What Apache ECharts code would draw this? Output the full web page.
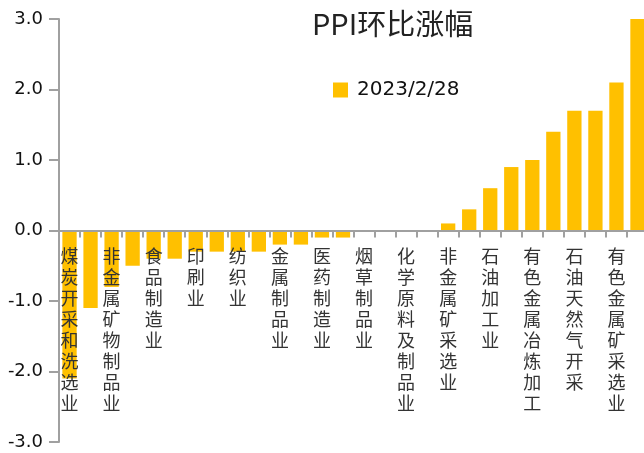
<!DOCTYPE html>
<html>
<head>
<meta charset="utf-8">
<script src="https://cdn.jsdelivr.net/npm/echarts@6/dist/echarts.min.js"></script>
<style>
    html, body { margin: 0; padding: 0; background: #fff; }
    #chart { width: 644px; height: 453px; }
</style>
</head>
<body>
<div id="chart"></div>
<script>
// 数据: 只显示奇数位置的行业名称
var categories = [
    "煤炭开采和洗选业", "", "非金属矿物制品业", "", "食品制造业", "", "印刷业", "",
    "纺织业", "", "金属制品业", "", "医药制造业", "", "烟草制品业", "",
    "化学原料及制品业", "", "非金属矿采选业", "", "石油加工业", "", "有色金属冶炼加工", "",
    "石油天然气开采", "", "有色金属矿采选业", ""
];
var values = [
    -2.1, -1.1, -0.8, -0.5, -0.4, -0.4, -0.3, -0.3,
    -0.3, -0.3, -0.2, -0.2, -0.1, -0.1, 0, 0,
    0, 0, 0.1, 0.3, 0.6, 0.9, 1.0, 1.4,
    1.7, 1.7, 2.1, 3.0
];
var seriesName = "2023/2/28";
var titleText = "PPI环比涨幅";

var myChart = echarts.init(document.getElementById("chart"));

var axisColor = "#a0a0a0";
var cjkFont = "'Noto Sans CJK SC', sans-serif";

// grid 高度 453-19-11 = 423, 零线在中间
var gridTop = 19, gridBottom = 11;
var zeroOffset = -(453 - gridTop - gridBottom) / 2;

var option = {
    animation: false,
    title: {
        text: titleText,
        left: 312,
        top: 9,
        padding: 0,
        textStyle: {
            fontFamily: cjkFont,
            fontSize: 29,
            fontWeight: "normal",
            color: "#222"
        }
    },
    legend: {
        data: [seriesName],
        left: 333,
        top: 80,
        padding: 0,
        itemWidth: 15,
        itemHeight: 15,
        icon: "rect",
        textStyle: {
            fontFamily: "'DejaVu Sans', sans-serif",
            fontSize: 20,
            color: "#111",
            padding: [0, 0, 0, 4]
        }
    },
    grid: {
        left: 59,
        right: -4,
        top: gridTop,
        bottom: gridBottom,
        containLabel: false,
        outerBoundsMode: "none"
    },
    xAxis: {
        type: "category",
        data: categories,
        position: "bottom",
        offset: zeroOffset,
        z: 10,
        axisLine: {
            onZero: false,
            lineStyle: { color: axisColor, width: 2 }
        },
        axisTick: {
            show: true,
            alignWithLabel: false,
            interval: 0,
            length: 7,
            lineStyle: { color: axisColor, width: 2 }
        },
        axisLabel: {
            interval: 0,
            margin: 15,
            fontFamily: cjkFont,
            fontSize: 18,
            lineHeight: 21,
            color: "#333",
            verticalAlign: "top",
            formatter: function (value) {
                // 竖排显示
                return value.split("").join("\n");
            }
        }
    },
    yAxis: {
        type: "value",
        min: -3,
        max: 3,
        interval: 1,
        splitLine: { show: false },
        axisLine: {
            show: true,
            lineStyle: { color: axisColor, width: 2 }
        },
        axisTick: {
            show: true,
            length: 10,
            lineStyle: { color: axisColor, width: 2 }
        },
        axisLabel: {
            margin: 16,
            fontFamily: "'DejaVu Sans', sans-serif",
            fontSize: 18,
            color: "#111",
            formatter: function (value) {
                return value.toFixed(1);
            }
        }
    },
    series: [{
        name: seriesName,
        type: "bar",
        data: values,
        barCategoryGap: "32%",
        itemStyle: { color: "#FFC000" }
    }]
};

myChart.setOption(option, true);
</script>
</body>
</html>
